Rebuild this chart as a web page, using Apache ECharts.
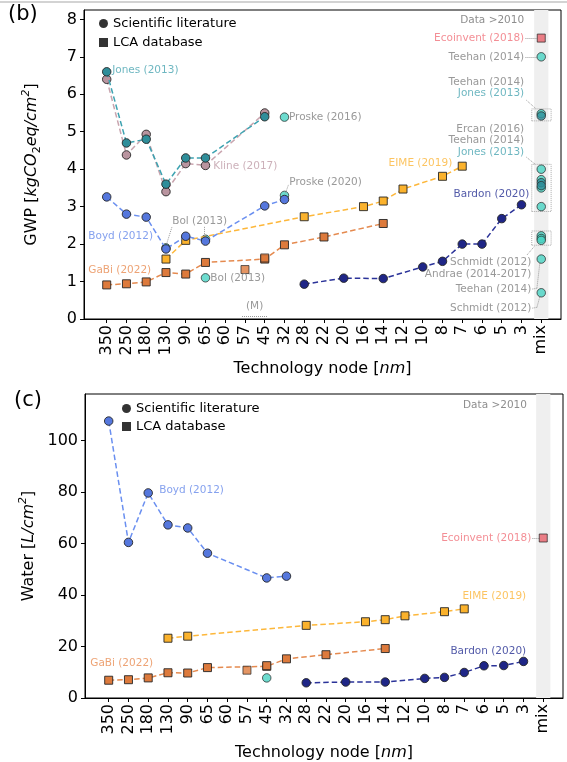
<!DOCTYPE html>
<html>
<head>
<meta charset="utf-8">
<script src="https://cdn.jsdelivr.net/npm/echarts/dist/echarts.min.js"></script>
<style>html,body{margin:0;padding:0;background:#fff}#c{width:567px;height:762px}</style>
</head>
<body>
<div id="c"></div>
<script>
const N = null;
const categories = ['350','250','180','130','90','65','60','57','45','32','28','22','20','16','14','12','10','8','7','6','5','3','mix'];
const MIX = categories.indexOf('mix');

// ---------- (b) GWP [kgCO2eq/cm2] ----------
const gwpTicks = [0,1,2,3,4,5,6,7,8];
const jonesGWP   = [6.6,4.7,4.8,3.6,4.3,4.3,N,N,5.4];
const klineGWP   = [6.4,4.38,4.93,3.4,4.15,4.1,N,N,5.5];
const boydGWP    = [3.26,2.8,2.72,1.87,2.21,2.08,N,N,3.02,3.19];
const bolGWP     = [N,N,N,1.9,N,2.13];
const bolLowGWP  = [N,N,N,N,N,1.1];
const proske2016GWP = [N,N,N,N,N,N,N,N,N,5.39];
const proske2020GWP = [N,N,N,N,N,N,N,N,N,3.3];
const bardonGWP  = [N,N,N,N,N,N,N,N,N,N,0.93,N,1.09,N,1.08,N,1.39,1.54,2.0,2.0,2.68,3.05];
const eimeGWP    = [N,N,N,1.6,2.1,N,N,N,N,N,2.73,N,N,3.0,3.15,3.47,N,3.81,4.08];
const gabiGWP    = [0.91,0.94,0.99,1.24,1.2,1.51,N,N,1.6,1.98,N,2.19,N,N,2.55];
const gabiExtraGWP = [N,N,N,N,N,N,N,1.32,1.63];
const mixEcoinventGWP = [7.5];
const mixOtherGWP = [7.0,5.48,4.0,3.72,3.5,3.0,2.22,2.15,2.1,1.6,0.7];
const mixJonesGWP = [5.42,3.64,3.56];

// ---------- (c) Water [L/cm2] ----------
const waterTicks = [0,20,40,60,80,100];
const boydW    = [107.5,60.4,79.6,67.2,66.0,56.2,N,N,46.6,47.3];
const gabiW    = [6.9,7.1,7.8,9.8,9.7,11.8,N,N,12.3,15.2,N,16.8,N,N,19.2];
const gabiExtraW = [N,N,N,N,N,N,N,10.8,12.6];
const eimeW    = [N,N,N,23.2,24.0,N,N,N,N,N,28.2,N,N,29.6,30.4,31.9,N,33.5,34.6];
const bardonW  = [N,N,N,N,N,N,N,N,N,N,5.9,N,6.2,N,6.2,N,7.6,8.0,9.9,12.5,12.6,14.2];
const bolW     = [N,N,N,N,N,N,N,N,7.8];
const mixEcoinventW = [62.1];

const FONT = 'DejaVu Sans';
const GRAY = '#808080';
const C = {
  jones:'#2f8e9a', jonesL:'#3ea3b1', jonesT:'#4aa5b2',
  kline:'#b9949f', klineL:'#c9a5af', klineT:'#bf9ca8',
  boyd:'#5577dd', boydL:'#6a8ff0', boydT:'#6689ea',
  turq:'#49d3c3',
  bardon:'#1f2687', bardonL:'#2b3399', bardonT:'#262f92',
  eime:'#fbb22c', eimeL:'#fdb73a', eimeT:'#fbb53a',
  gabi:'#dd7a3c', gabiL:'#e58a4f', gabiT:'#e88c52',
  eco:'#e8606a', ecoT:'#f0727a'
};

function pts(arr){ const o=[]; arr.forEach((v,i)=>{ if(v!=null) o.push([i,v]); }); return o; }
function mixPts(arr){ return arr.map(v=>[MIX,v]); }
const EDGE = {borderColor:'#262626', borderWidth:0.9};

function lineS(g, data, fill, stroke, symbol, z){
  return {type:'line', xAxisIndex:g, yAxisIndex:g, data, symbol, symbolSize: symbol==='rect'?8:8.5, z,
    lineStyle:{color:stroke, width:1.5, type:[5.5,3]}, itemStyle:Object.assign({color:fill}, EDGE),
    silent:true, animation:false};
}
function dotS(g, data, fill, symbol, z){
  return {type:'scatter', xAxisIndex:g, yAxisIndex:g, data, symbol, symbolSize: symbol==='rect'?8:8.5, z,
    itemStyle:Object.assign({color:fill}, EDGE), silent:true, animation:false};
}
function annotS(g, items, segs, areas){
  const s = {type:'scatter', xAxisIndex:g, yAxisIndex:g, symbolSize:1, z:10, silent:true, animation:false,
    itemStyle:{color:'rgba(0,0,0,0)'},
    data: items.map(a=>({value:[a[0],a[1]], label:{show:true, position:a[4]||'right', distance:0,
      formatter:a[2], color:a[3], fontSize:10.5, fontFamily:FONT}})),
    markLine:{silent:true, animation:false, symbol:['none','none'], label:{show:false},
      lineStyle:{type:'dotted', color:'#9a9a9a', width:1},
      data: segs.map(q=>[{coord:[q[0],q[1]]},{coord:[q[2],q[3]]}])}
  };
  if(areas) s.markArea = areas;
  return s;
}
function bandS(g){
  return {type:'scatter', xAxisIndex:g, yAxisIndex:g, data:[[MIX,0]], symbolSize:0, z:0, silent:true, animation:false,
    itemStyle:{color:'rgba(0,0,0,0)'},
    markArea:{silent:true, itemStyle:{color:'#efefef'}, data:[[{xAxis:MIX-0.36},{xAxis:MIX+0.36}]]}};
}
function box(vals, lo, hi){
  const v = vals.filter(x=>x>=lo && x<=hi);
  return [{xAxis:MIX-0.48, yAxis:Math.min(...v)-0.13},{xAxis:MIX+0.5, yAxis:Math.max(...v)+0.13}];
}
const allMixGWP = mixOtherGWP.concat(mixJonesGWP);

const annTop = [
  [0.25,6.64,'Jones (2013)',C.jonesT],
  [5.37,4.08,'Kline (2017)',C.klineT],
  [9.2,5.39,'Proske (2016)',GRAY],
  [9.22,3.66,'Proske (2020)',GRAY],
  [-0.96,2.21,'Boyd (2012)',C.boydT],
  [3.29,2.6,'Bol (2013)',GRAY],
  [-0.96,1.31,'GaBi (2022)',C.gabiT],
  [5.22,1.1,'Bol (2013)',GRAY],
  [7.49,0.33,'(M)',GRAY,'inside'],
  [17.52,4.16,'EIME (2019)',C.eimeT,'left'],
  [21.42,3.33,'Bardon (2020)',C.bardonT,'left'],
  [21.16,7.97,'Data >2010','#707070','left'],
  [21.16,7.5,'Ecoinvent (2018)',C.ecoT,'left'],
  [21.16,7.0,'Teehan (2014)',GRAY,'left'],
  [21.16,6.32,'Teehan (2014)',GRAY,'left'],
  [21.16,6.03,'Jones (2013)',C.jonesT,'left'],
  [21.16,5.07,'Ercan (2016)',GRAY,'left'],
  [21.16,4.77,'Teehan (2014)',GRAY,'left'],
  [21.16,4.45,'Jones (2013)',C.jonesT,'left'],
  [21.52,1.52,'Schmidt (2012)',GRAY,'left'],
  [21.52,1.2,'Andrae (2014-2017)',GRAY,'left'],
  [21.52,0.8,'Teehan (2014)',GRAY,'left'],
  [21.52,0.29,'Schmidt (2012)',GRAY,'left']
];
const segTop = [
  [9.05,3.36,9.2,3.58],
  [3.3,2.45,3.0,1.95],
  [4.93,2.46,4.93,2.2],
  [6.85,0.08,8.15,0.08],
  [21.2,7.5,21.8,7.5],
  [21.2,7.0,21.8,7.0],
  [21.25,5.84,21.72,5.62],
  [21.25,4.32,21.72,4.12],
  [21.28,1.71,21.67,1.95],
  [21.55,0.8,21.78,0.82],[21.78,0.82,21.93,1.5],
  [21.55,0.29,21.78,0.31],[21.78,0.31,21.93,0.6]
];
const annBot = [
  [2.53,80.5,'Boyd (2012)',C.boydT],
  [-0.96,13.4,'GaBi (2022)',C.gabiT],
  [21.16,39.3,'EIME (2019)',C.eimeT,'left'],
  [21.16,18.3,'Bardon (2020)',C.bardonT,'left'],
  [21.42,62.1,'Ecoinvent (2018)',C.ecoT,'left'],
  [21.2,113.7,'Data >2010','#707070','left']
];
const segBot = [[21.45,62.1,21.8,62.1]];

const richName = {
  n:{fontSize:16, fontFamily:FONT, color:'#000', lineHeight:22},
  i:{fontSize:16, fontFamily:FONT, fontStyle:'italic', color:'#000', lineHeight:22},
  sub:{fontSize:11, fontFamily:FONT, color:'#000', verticalAlign:'bottom', lineHeight:12},
  sup:{fontSize:11, fontFamily:FONT, fontStyle:'italic', color:'#000', verticalAlign:'top', lineHeight:12}
};
function xAxis(g, min, gap){
  return {type:'value', gridIndex:g, min, max:23,
    name:'{n|Technology node [}{i|nm}{n|]}', nameLocation:'middle', nameGap:gap,
    nameTextStyle:{rich:richName},
    axisLine:{onZero:false, lineStyle:{color:'#000', width:1}},
    axisTick:{show:true, length:4, customValues:categories.map((c,i)=>i), lineStyle:{color:'#000'}},
    axisLabel:{rotate:90, margin:6, fontSize:16, fontFamily:FONT, color:'#000',
      customValues:categories.map((c,i)=>i), formatter:v=>categories[Math.round(v)]},
    splitLine:{show:false}};
}
function yAxis(g, max, ticks, name){
  return {type:'value', gridIndex:g, min:0, max,
    name, nameLocation:'middle', nameGap:41, nameTextStyle:{rich:richName},
    axisLine:{show:true, onZero:false, lineStyle:{color:'#000', width:1}},
    axisTick:{show:true, length:4, customValues:ticks, lineStyle:{color:'#000'}},
    axisLabel:{margin:7, fontSize:16, fontFamily:FONT, color:'#000', customValues:ticks},
    splitLine:{show:false}};
}
const legendText = {fontSize:13, fontFamily:FONT, color:'#000'};
function legend(left, top, gap){
  return {orient:'vertical', left, top, padding:0, itemWidth:9, itemHeight:9, itemGap:gap,
    selectedMode:false, textStyle:legendText,
    data:[{name:'Scientific literature', icon:'circle'},{name:'LCA database', icon:'rect'}]};
}

const series = [
  bandS(0), bandS(1),
  {type:'scatter', name:'Scientific literature', data:[], itemStyle:{color:'#000'}, xAxisIndex:0, yAxisIndex:0},
  {type:'scatter', name:'LCA database', data:[], symbol:'rect', itemStyle:{color:'#000'}, xAxisIndex:0, yAxisIndex:0},
  // (b)
  lineS(0, pts(klineGWP), C.kline, C.klineL, 'circle', 3),
  lineS(0, pts(jonesGWP), C.jones, C.jonesL, 'circle', 4),
  dotS(0, pts(bolGWP), C.turq, 'circle', 3),
  lineS(0, pts(gabiGWP), C.gabi, C.gabiL, 'rect', 3),
  dotS(0, pts(gabiExtraGWP), C.gabi, 'rect', 3),
  lineS(0, pts(eimeGWP), C.eime, C.eimeL, 'rect', 4),
  lineS(0, pts(boydGWP), C.boyd, C.boydL, 'circle', 5),
  dotS(0, pts(bolLowGWP), C.turq, 'circle', 5),
  dotS(0, pts(proske2016GWP), C.turq, 'circle', 5),
  dotS(0, pts(proske2020GWP), C.turq, 'circle', 4),
  lineS(0, pts(bardonGWP), C.bardon, C.bardonL, 'circle', 5),
  dotS(0, mixPts(mixEcoinventGWP), C.eco, 'rect', 5),
  dotS(0, mixPts(mixOtherGWP), C.turq, 'circle', 5),
  dotS(0, mixPts(mixJonesGWP), C.jones, 'circle', 6),
  annotS(0, annTop, segTop, {silent:true,
    itemStyle:{color:'rgba(0,0,0,0)', borderColor:'#a8a8a8', borderWidth:1, borderType:'dotted'},
    data:[box(allMixGWP,5,6), box(allMixGWP,2.9,4.1), box(allMixGWP,2,2.3)]}),
  // (c)
  lineS(1, pts(boydW), C.boyd, C.boydL, 'circle', 5),
  lineS(1, pts(gabiW), C.gabi, C.gabiL, 'rect', 3),
  dotS(1, pts(gabiExtraW), C.gabi, 'rect', 3),
  lineS(1, pts(eimeW), C.eime, C.eimeL, 'rect', 4),
  lineS(1, pts(bardonW), C.bardon, C.bardonL, 'circle', 5),
  dotS(1, pts(bolW), C.turq, 'circle', 5),
  dotS(1, mixPts(mixEcoinventW), C.eco, 'rect', 5),
  annotS(1, annBot, segBot)
];

const chart = echarts.init(document.getElementById('c'), null, {renderer:'canvas'});
chart.setOption({
  animation:false,
  backgroundColor:'#fff',
  title:[
    {text:'(b)', left:8, top:4, padding:0, textStyle:{fontSize:21, fontWeight:'normal', fontFamily:FONT, color:'#000'}},
    {text:'(c)', left:14, top:390, padding:0, textStyle:{fontSize:21, fontWeight:'normal', fontFamily:FONT, color:'#000'}}
  ],
  legend:[legend(99, 17, 6), legend(122, 402, 5)],
  grid:[
    {left:84, top:10, width:477, height:309, show:true, borderColor:'#000', borderWidth:1, backgroundColor:'transparent'},
    {left:85, top:394, width:478, height:309, show:true, borderColor:'#000', borderWidth:1, backgroundColor:'transparent'}
  ],
  xAxis:[xAxis(0,-1.15,39), xAxis(1,-1.2,44)],
  yAxis:[
    yAxis(0, 8.25, gwpTicks, '{n|GWP [}{i|kgCO}{sub|2}{i|eq/cm}{sup|2}{n|]}'),
    yAxis(1, 118, waterTicks, '{n|Water [}{i|L/cm}{sup|2}{n|]}')
  ],
  graphic:[{type:'line', shape:{x1:0,y1:2,x2:567,y2:2}, style:{stroke:'#c4c4c4', lineWidth:1.5}, silent:true}],
  series
});
</script>
</body>
</html>
